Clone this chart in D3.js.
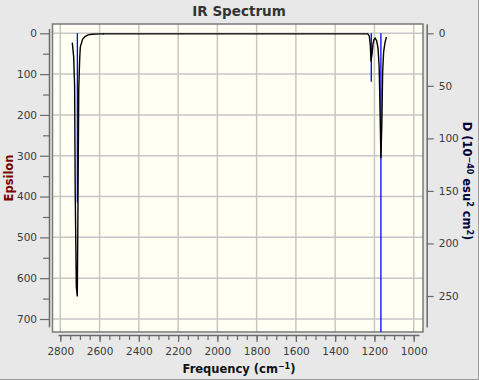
<!DOCTYPE html>
<html>
<head>
<meta charset="utf-8">
<script src="https://cdn.jsdelivr.net/npm/d3@7"></script>
<style>
  html, body { margin: 0; padding: 0; background: #e8e8e8; }
  svg { display: block; }
  text { font-family: "DejaVu Sans", sans-serif; }
</style>
</head>
<body>
<svg id="chart" width="479" height="380"></svg>
<script>
// ---- data ----
const specFreq = [2739, 2732, 2727, 2724, 2718.5, 2713.4, 2710, 2706, 2701, 2698, 2686, 2674, 2659, 2640, 2598, 2550,
                  1240, 1234, 1226, 1221, 1217.5, 1212, 1207, 1202, 1196, 1189, 1182, 1176, 1171, 1167, 1162, 1158, 1153, 1146, 1139];
const specEps  = [23, 57, 129, 390, 620, 645, 420, 136, 60, 33, 14, 8, 4, 2.5, 1.5, 1.5,
                  1.5, 1.5, 7, 30, 69, 50, 25, 15, 12, 18, 35, 80, 200, 306, 215, 92, 45, 22, 9];
const stickFreq = [2713, 2581, 1216, 1167];
const stickD    = [161, 1.2, 46, 320];
const xTicksMajor = [2800, 2600, 2400, 2200, 2000, 1800, 1600, 1400, 1200, 1000];
const xTicksMinor = d3.range(1000, 2801, 50);
const yLeftTicks = [0, 100, 200, 300, 400, 500, 600, 700];
const yLeftMinor = [50, 150, 250, 350, 450, 550, 650];
const yRightTicks = [0, 50, 100, 150, 200, 250];

// ---- layout ----
const W = 479, H = 380;
const plot = { left: 52.5, top: 24, right: 423, bottom: 332 };

const svg = d3.select("#chart");
const x = d3.scaleLinear().domain([2800, 1000]).range([60.3, 413.7]);
const yL = d3.scaleLinear().domain([0, 700]).range([33.3, 319]);
const yR = d3.scaleLinear().domain([0, 250]).range([33.3, 296]);

// outer border
svg.append("rect").attr("x", 0).attr("y", 0).attr("width", W).attr("height", H).attr("fill", "#e8e8e8");
svg.append("path").attr("d", `M${W-0.5},0V${H-0.5}H0`).attr("fill", "none").attr("stroke", "#9a9a9a");

// plot background
svg.append("rect")
  .attr("x", plot.left).attr("y", plot.top)
  .attr("width", plot.right - plot.left).attr("height", plot.bottom - plot.top)
  .attr("fill", "#fffff4");

svg.append("defs").append("clipPath").attr("id", "clip")
  .append("rect").attr("x", plot.left).attr("y", plot.top)
  .attr("width", plot.right - plot.left).attr("height", plot.bottom - plot.top);

// grid
const grid = svg.append("g").attr("stroke", "#c6c6c6").attr("stroke-width", 1.5);
grid.selectAll("line.v").data(xTicksMajor).join("line")
  .attr("x1", d => x(d)).attr("x2", d => x(d)).attr("y1", plot.top).attr("y2", plot.bottom);
grid.selectAll("line.h").data(yLeftTicks).join("line")
  .attr("y1", d => yL(d)).attr("y2", d => yL(d)).attr("x1", plot.left).attr("x2", plot.right);

// frame
svg.append("rect")
  .attr("x", plot.left).attr("y", plot.top)
  .attr("width", plot.right - plot.left).attr("height", plot.bottom - plot.top)
  .attr("fill", "none").attr("stroke", "#7a7a7a").attr("stroke-width", 1.5);

// sticks
const g = svg.append("g").attr("clip-path", "url(#clip)");
g.selectAll("line.stick").data(stickFreq).join("line")
  .attr("x1", d => x(d)).attr("x2", d => x(d))
  .attr("y1", yR(0)).attr("y2", (d, i) => yR(stickD[i]))
  .attr("stroke", "#0000ff").attr("stroke-width", 1.3);

// spectrum
const pts = specFreq.map((f, i) => [f, specEps[i]]);
g.append("path").datum(pts)
  .attr("d", d3.line().x(d => x(d[0])).y(d => yL(d[1])))
  .attr("fill", "none").attr("stroke", "#000").attr("stroke-width", 1.4);

// axes
function styleAxis(sel) {
  sel.selectAll("path.domain").attr("stroke", "#6a6a6a").attr("stroke-width", 1.5);
  sel.selectAll(".tick line").attr("stroke", "#6a6a6a").attr("stroke-width", 1.2);
  sel.selectAll(".tick text").attr("fill", "#3a3a3a").attr("font-size", "10.5px")
     .attr("font-family", "DejaVu Sans, sans-serif");
}

// bottom
const xAxisScale = x.copy().domain([2812, 973]).range([x(2812), x(973)]);
const gxMinor = svg.append("g").attr("transform", "translate(0,335)")
  .call(d3.axisBottom(xAxisScale).tickValues(xTicksMinor).tickSize(5).tickSizeOuter(0).tickFormat(""));
styleAxis(gxMinor);
const gx = svg.append("g").attr("transform", "translate(0,335)")
  .call(d3.axisBottom(xAxisScale).tickValues(xTicksMajor).tickSize(7).tickSizeOuter(0).tickPadding(6).tickFormat(d3.format("d")));
styleAxis(gx);
gx.select("path.domain").remove();

// left
const yLAxisScale = yL.copy().domain([-12, 719]).range([yL(-12), yL(719)]);
const gyMinor = svg.append("g").attr("transform", "translate(49,0)")
  .call(d3.axisLeft(yLAxisScale).tickValues(yLeftMinor).tickSize(6).tickSizeOuter(0).tickFormat(""));
styleAxis(gyMinor);
const gy = svg.append("g").attr("transform", "translate(49,0)")
  .call(d3.axisLeft(yLAxisScale).tickValues(yLeftTicks).tickSize(9).tickSizeOuter(0).tickPadding(3).tickFormat(d3.format("d")));
styleAxis(gy);
gy.select("path.domain").remove();

// right
const yRAxisScale = yR.copy().domain([-9, 279.5]).range([yR(-9), yR(279.5)]);
const gr = svg.append("g").attr("transform", "translate(426.7,0)")
  .call(d3.axisRight(yRAxisScale).tickValues(yRightTicks).tickSize(7).tickSizeOuter(0).tickPadding(5).tickFormat(d3.format("d")));
styleAxis(gr);

// title
svg.append("text").attr("x", 239).attr("y", 15.5).attr("text-anchor", "middle")
  .attr("font-size", "13.5px").attr("font-weight", "bold").attr("fill", "#333")
  .text("IR Spectrum");

// x label
const xl = svg.append("text").attr("x", 239).attr("y", 373).attr("text-anchor", "middle")
  .attr("font-size", "11.5px").attr("font-weight", "bold").attr("fill", "#111");
xl.append("tspan").text("Frequency (cm");
xl.append("tspan").attr("dy", -4).attr("font-size", "8px").text("\u22121");
xl.append("tspan").attr("dy", 4).text(")");

// left label
svg.append("text").attr("transform", `translate(13,${(plot.top + plot.bottom) / 2}) rotate(-90)`)
  .attr("text-anchor", "middle").attr("font-size", "11.5px").attr("font-weight", "bold").attr("fill", "#7a0000")
  .text("Epsilon");

// right label
const rl = svg.append("text").attr("transform", `translate(463,${(plot.top + plot.bottom) / 2 + 3}) rotate(90)`)
  .attr("text-anchor", "middle").attr("font-size", "11.5px").attr("font-weight", "bold").attr("fill", "#000033");
rl.append("tspan").text("D (10");
rl.append("tspan").attr("dy", -4).attr("font-size", "8px").text("\u221240");
rl.append("tspan").attr("dy", 4).text(" esu");
rl.append("tspan").attr("dy", -4).attr("font-size", "8px").text("2");
rl.append("tspan").attr("dy", 4).text(" cm");
rl.append("tspan").attr("dy", -4).attr("font-size", "8px").text("2");
rl.append("tspan").attr("dy", 4).text(")");
</script>
</body>
</html>
